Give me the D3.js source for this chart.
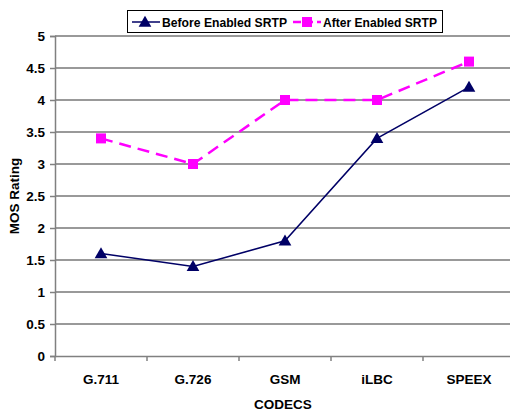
<!doctype html>
<head>
  <meta charset="utf-8" />
  <script src="https://d3js.org/d3.v7.min.js"></script>
  <style>
    body { margin: 0; background: #fff; }
    text { font-family: "Liberation Sans", Arial, sans-serif; font-weight: bold; }
  </style>
</head>
<body>
  <svg></svg>
  <script>
    var codecs = ["G.711", "G.726", "GSM", "iLBC", "SPEEX"];
    var before = [1.6, 1.4, 1.8, 3.4, 4.2];
    var after = [3.4, 3.0, 4.0, 4.0, 4.6];
    var yTicks = [0, 0.5, 1, 1.5, 2, 2.5, 3, 3.5, 4, 4.5, 5];

    var width = 510, height = 412,
      mLeft = 55, mRight = 515, mTop = 36, mBottom = 356;

    var svg = d3.select("svg").attr("width", width).attr("height", height);

    var x = d3.scaleBand().domain(codecs).range([mLeft, mRight]);
    var y = d3.scaleLinear().domain([0, 5]).range([mBottom, mTop]);

    // gridlines
    svg.selectAll(".grid")
      .data(yTicks.slice(1))
      .enter().append("line")
      .attr("x1", mLeft).attr("x2", mRight)
      .attr("y1", function(d) { return y(d); })
      .attr("y2", function(d) { return y(d); })
      .attr("stroke", "#777")
      .attr("stroke-width", 1.3);

    // y axis
    var yAxis = svg.append("g")
      .attr("transform", "translate(" + mLeft + ",0)")
      .call(d3.axisLeft(y).tickValues(yTicks).tickSize(5).tickPadding(5)
        .tickFormat(function(d) { return d; }));
    yAxis.selectAll("path, line").attr("stroke", "#808080").attr("stroke-width", 1.5);
    yAxis.selectAll("text").attr("font-size", 13.5).attr("fill", "#000")
      .style("font-family", "Liberation Sans").style("font-weight", "bold");

    // x axis
    var xAxis = svg.append("g")
      .attr("transform", "translate(0," + mBottom + ")")
      .call(d3.axisBottom(x).tickSize(0).tickPadding(18));
    xAxis.select("path").attr("stroke", "#808080").attr("stroke-width", 1.5);
    xAxis.selectAll("text").attr("font-size", 13.5).attr("fill", "#000")
      .style("font-family", "Liberation Sans").style("font-weight", "bold");
    svg.selectAll(".xtick")
      .data(codecs)
      .enter().append("line")
      .attr("x1", function(d) { return x(d); })
      .attr("x2", function(d) { return x(d); })
      .attr("y1", mBottom).attr("y2", mBottom + 5)
      .attr("stroke", "#808080").attr("stroke-width", 1.5);

    // axis titles
    svg.append("text")
      .attr("x", x(codecs[2]) + x.bandwidth() / 2 - 2)
      .attr("y", 409)
      .attr("text-anchor", "middle")
      .attr("font-size", 13.5)
      .text("CODECS");
    svg.append("text")
      .attr("transform", "translate(19,196) rotate(-90)")
      .attr("text-anchor", "middle")
      .attr("font-size", 13.5)
      .text("MOS Rating");

    var cx = function(d, i) { return x(codecs[i]) + x.bandwidth() / 2; };
    var line = d3.line().x(cx).y(function(d) { return y(d); });

    svg.append("path")
      .datum(after)
      .attr("d", line)
      .attr("fill", "none")
      .attr("stroke", "#ff00ff")
      .attr("stroke-width", 2.5)
      .attr("stroke-dasharray", "12,7");
    svg.selectAll(".sq")
      .data(after)
      .enter().append("rect")
      .attr("x", function(d, i) { return cx(d, i) - 5; })
      .attr("y", function(d) { return y(d) - 5; })
      .attr("width", 10).attr("height", 10)
      .attr("fill", "#ff00ff");

    svg.append("path")
      .datum(before)
      .attr("d", line)
      .attr("fill", "none")
      .attr("stroke", "#000066")
      .attr("stroke-width", 1.5);
    var tri = d3.symbol().type(d3.symbolTriangle).size(70);
    svg.selectAll(".tri")
      .data(before)
      .enter().append("path")
      .attr("d", tri)
      .attr("transform", function(d, i) { return "translate(" + cx(d, i) + "," + (y(d) + 1) + ")"; })
      .attr("fill", "#000066");

    // legend
    var lg = svg.append("g");
    lg.append("rect")
      .attr("x", 127.5).attr("y", 10.5).attr("width", 315).attr("height", 22)
      .attr("fill", "#fff").attr("stroke", "#000").attr("stroke-width", 1);
    lg.append("line").attr("x1", 132).attr("x2", 160).attr("y1", 22).attr("y2", 22)
      .attr("stroke", "#000066").attr("stroke-width", 1.5);
    lg.append("path").attr("d", tri).attr("transform", "translate(145,23)").attr("fill", "#000066");
    lg.append("text").attr("x", 162).attr("y", 27).attr("font-size", 13.5)
      .attr("textLength", 125).attr("lengthAdjust", "spacingAndGlyphs").text("Before Enabled SRTP");
    lg.append("line").attr("x1", 293).attr("x2", 321).attr("y1", 22).attr("y2", 22)
      .attr("stroke", "#ff00ff").attr("stroke-width", 2.5).attr("stroke-dasharray", "8,4");
    lg.append("rect").attr("x", 302).attr("y", 17).attr("width", 10).attr("height", 10).attr("fill", "#ff00ff");
    lg.append("text").attr("x", 323).attr("y", 27).attr("font-size", 13.5)
      .attr("textLength", 114).attr("lengthAdjust", "spacingAndGlyphs").text("After Enabled SRTP");
  </script>
</body>
